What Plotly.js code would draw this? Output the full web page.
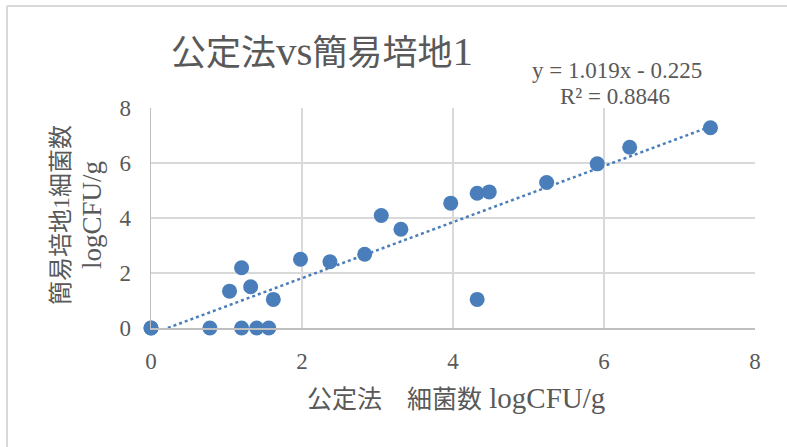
<!DOCTYPE html>
<html>
<head>
<meta charset="utf-8">
<script src="https://cdn.plot.ly/plotly-3.0.1.min.js"></script>
<style>
html,body{margin:0;padding:0;background:#fff;}
#chart{width:787px;height:447px;}
</style>
</head>
<body>
<div id="chart"></div>
<script>
// Data
const koteiX = [0, 0, 0.78, 1.2, 1.4, 1.56, 1.04, 1.2, 1.32, 1.62, 1.98, 2.37, 2.83, 3.05, 3.31, 3.97, 4.32, 4.48, 4.32, 5.24, 5.91, 6.34, 7.41];
const kanniY = [0, 0, 0, 0, 0, 0, 1.34, 2.19, 1.5, 1.04, 2.5, 2.41, 2.68, 4.09, 3.59, 4.54, 4.9, 4.95, 1.04, 5.29, 5.97, 6.57, 7.28];
const trendSlope = [1.019];
const trendIntercept = [-0.225];
const tickVals = [0, 2, 4, 6, 8];
const tickText = ["0", "2", "4", "6", "8"];

const titleParts = ["公定法", "vs", "簡易培地", "1"];
const eqLine1 = "y = 1.019x - 0.225";
const eqLine2 = "R² = 0.8846";
const xTitleJa = "公定法　細菌数";
const xTitleEn = "logCFU/g";
const yTitleLine1 = "簡易培地1細菌数";
const yTitleLine2 = "logCFU/g";

const serif = "Liberation Serif, Noto Sans CJK JP, serif";
const gray = "#595959";
const blue = "#4a7ebb";

const M = {l:151, r:32, t:108, b:119};
const W = 787, H = 447;
const pw = W - M.l - M.r, ph = H - M.t - M.b;
function px2paperX(px){ return (px - M.l) / pw; }
function px2paperY(py){ return (H - M.b - py) / ph; }
function ja(t, s){ return '<span style="font-size:' + s + 'px">' + t + '</span>'; }

const xmin = Math.min(...koteiX), xmax = Math.max(...koteiX);
const tx = [xmin, xmax];
const ty = tx.map(v => trendSlope[0]*v + trendIntercept[0]);

const traces = [
  {x: tx, y: ty, mode: 'lines', type: 'scatter',
   line: {color: blue, width: 2.5, dash: 'dot'}, hoverinfo: 'skip'},
  {x: koteiX, y: kanniY, mode: 'markers', type: 'scatter',
   marker: {color: blue, size: 15, line: {width: 0}}, cliponaxis: false}
];

const titleHtml = ja(titleParts[0], 35) + titleParts[1] + ja(titleParts[2], 35) + titleParts[3];

const layout = {
  width: W, height: H,
  margin: M,
  paper_bgcolor: '#ffffff', plot_bgcolor: '#ffffff',
  showlegend: false,
  font: {family: serif, color: gray, size: 24},
  xaxis: {range: [0, 8], tickvals: tickVals, ticktext: tickText, showgrid: true,
          gridcolor: '#d9d9d9', gridwidth: 1.5, zeroline: false, showline: true,
          linecolor: '#bfbfbf', linewidth: 1.5, ticks: '', ticklen: 0, ticklabelstandoff: 12,
          tickfont: {family: serif, size: 23, color: gray}},
  yaxis: {range: [0, 8], tickvals: tickVals, ticktext: tickText, showgrid: true,
          gridcolor: '#d9d9d9', gridwidth: 1.5, zeroline: false, showline: true,
          linecolor: '#bfbfbf', linewidth: 1.5, ticks: '', ticklen: 0, ticklabelstandoff: 14,
          tickfont: {family: serif, size: 23, color: gray}},
  annotations: [
    {text: titleHtml, xref: 'paper', yref: 'paper', x: px2paperX(322), y: px2paperY(51),
     xanchor: 'center', yanchor: 'middle', showarrow: false,
     font: {family: serif, size: 41, color: gray}},
    {text: eqLine1, xref: 'paper', yref: 'paper', x: px2paperX(617), y: px2paperY(70),
     xanchor: 'center', yanchor: 'middle', showarrow: false,
     font: {family: serif, size: 23, color: gray}},
    {text: eqLine2, xref: 'paper', yref: 'paper', x: px2paperX(615), y: px2paperY(96),
     xanchor: 'center', yanchor: 'middle', showarrow: false,
     font: {family: serif, size: 23, color: gray}},
    {text: ja(xTitleJa, 25) + ' ' + xTitleEn, xref: 'paper', yref: 'paper',
     x: px2paperX(456), y: px2paperY(398), xanchor: 'center', yanchor: 'middle', showarrow: false,
     font: {family: serif, size: 29, color: gray}},
    {text: yTitleLine1, xref: 'paper', yref: 'paper', x: px2paperX(61), y: px2paperY(215),
     xanchor: 'center', yanchor: 'middle', showarrow: false, textangle: -90,
     font: {family: serif, size: 24, color: gray}},
    {text: yTitleLine2, xref: 'paper', yref: 'paper', x: px2paperX(92), y: px2paperY(215),
     xanchor: 'center', yanchor: 'middle', showarrow: false, textangle: -90,
     font: {family: serif, size: 27, color: gray}}
  ],
  shapes: [
    {type: 'line', xref: 'paper', yref: 'paper', x0: px2paperX(7), x1: px2paperX(7),
     y0: px2paperY(6), y1: px2paperY(H + 5), line: {color: '#d9d9d9', width: 2}, layer: 'below'},
    {type: 'line', xref: 'paper', yref: 'paper', x0: px2paperX(7), x1: px2paperX(W + 5),
     y0: px2paperY(6), y1: px2paperY(6), line: {color: '#d9d9d9', width: 2}, layer: 'below'}
  ]
};

Plotly.newPlot('chart', traces, layout, {displayModeBar: false, staticPlot: true});
</script>
</body>
</html>
